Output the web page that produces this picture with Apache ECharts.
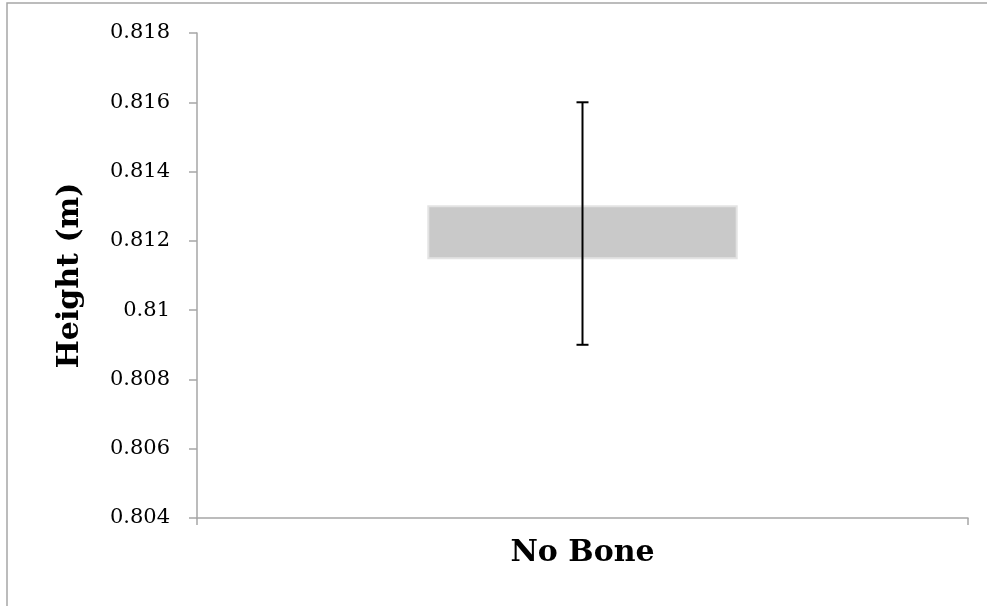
<!DOCTYPE html>
<html>
<head>
<meta charset="utf-8">
<script src="https://cdn.jsdelivr.net/npm/echarts@6/dist/echarts.min.js"></script>
<style>
  html, body { margin: 0; padding: 0; background: #fff; }
  #chart { width: 987px; height: 606px; }
</style>
</head>
<body>
<div id="chart"></div>
<script>
// data
var categories = ['No Bone'];
var boxLow = [0.8115];
var boxHigh = [0.813];
var errLow = [0.809];
var errHigh = [0.816];

var yMin = 0.804, yMax = 0.818, yStep = 0.002;

var chart = echarts.init(document.getElementById('chart'));

var rows = categories.map(function (c, i) {
  return [i, boxLow[i], boxHigh[i], errLow[i], errHigh[i]];
});

var serif = '"DejaVu Serif", "Liberation Serif", serif';

chart.setOption({
  animation: false,
  graphic: [{
    type: 'rect',
    shape: { x: 7, y: 3, width: 1200, height: 800 },
    style: { fill: 'none', stroke: '#a6a6a6', lineWidth: 1.5 },
    silent: true
  }],
  grid: { left: 197, right: 19, top: 33, bottom: 88 },
  xAxis: {
    type: 'category',
    data: categories,
    axisLine: { lineStyle: { color: '#a6a6a6', width: 1.5 } },
    axisTick: { show: true, length: 7, alignWithLabel: false, lineStyle: { color: '#a6a6a6', width: 1.5 } },
    axisLabel: { fontFamily: serif, fontSize: 30, fontWeight: 'bold', color: '#000', margin: 20 },
    splitLine: { show: false }
  },
  yAxis: {
    type: 'value',
    min: yMin,
    max: yMax,
    interval: yStep,
    name: 'Height (m)',
    nameLocation: 'middle',
    nameGap: 112,
    nameTextStyle: { fontFamily: serif, fontSize: 30, fontWeight: 'bold', color: '#000' },
    axisLine: { show: true, lineStyle: { color: '#a6a6a6', width: 1.5 } },
    axisTick: { show: true, length: 8, lineStyle: { color: '#a6a6a6', width: 1.5 } },
    axisLabel: {
      fontFamily: serif, fontSize: 21, color: '#000', margin: 27,
      formatter: function (v) { return String(parseFloat(v.toFixed(3))); }
    },
    splitLine: { show: false }
  },
  series: [{
    type: 'custom',
    data: rows,
    encode: { x: 0, y: [1, 2, 3, 4] },
    renderItem: function (params, api) {
      var x = api.value(0);
      var pLow = api.coord([x, api.value(1)]);
      var pHigh = api.coord([x, api.value(2)]);
      var eLow = api.coord([x, api.value(3)]);
      var eHigh = api.coord([x, api.value(4)]);
      var band = api.size([1, 0])[0];
      var w = band * 0.4;
      var cap = 12;
      return {
        type: 'group',
        children: [{
          type: 'rect',
          shape: { x: pLow[0] - w / 2, y: pHigh[1], width: w, height: pLow[1] - pHigh[1] },
          style: { fill: '#c9c9c9', stroke: '#e3e3e3', lineWidth: 2 }
        }, {
          type: 'line',
          shape: { x1: eLow[0], y1: eLow[1], x2: eHigh[0], y2: eHigh[1] },
          style: { stroke: '#000', lineWidth: 2 }
        }, {
          type: 'line',
          shape: { x1: eLow[0] - cap / 2, y1: eLow[1], x2: eLow[0] + cap / 2, y2: eLow[1] },
          style: { stroke: '#000', lineWidth: 2 }
        }, {
          type: 'line',
          shape: { x1: eHigh[0] - cap / 2, y1: eHigh[1], x2: eHigh[0] + cap / 2, y2: eHigh[1] },
          style: { stroke: '#000', lineWidth: 2 }
        }]
      };
    }
  }]
});
</script>
</body>
</html>
